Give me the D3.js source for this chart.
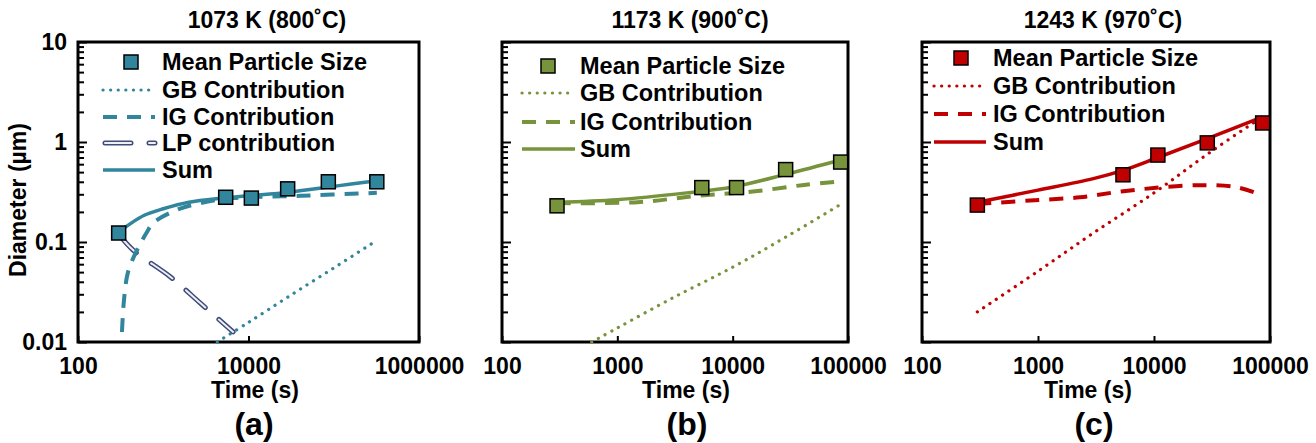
<!DOCTYPE html>
<html>
<head>
<meta charset="utf-8">
<script src="https://cdn.jsdelivr.net/npm/d3@7/dist/d3.min.js"></script>
<style>
  body { margin: 0; background: #fff; }
  text { font-family: "Liberation Sans", Arial, sans-serif; font-weight: bold; fill: #000; }
</style>
</head>
<body>
<div id="app"></div>
<script>
// ---- data ----
// (a) 1073 K
const meanTimesA = [300, 5400, 10800, 28800, 86400, 320000]
const meanA      = [0.123, 0.28, 0.275, 0.34, 0.40, 0.40]
const sumTimesA  = [300, 400, 600, 1000, 2000, 5000, 10000, 30000, 100000, 320000]
const sumA       = [0.125, 0.15, 0.185, 0.215, 0.25, 0.275, 0.29, 0.315, 0.36, 0.41]
const igTimesA   = [328, 346, 386, 492, 645, 760, 1450, 2720, 6600, 41000, 320000]
const igA        = [0.0126, 0.026, 0.05, 0.083, 0.126, 0.155, 0.21, 0.245, 0.275, 0.29, 0.31]
const lpTimesA   = [300, 443, 1206, 2720, 6600]
const lpA        = [0.12, 0.083, 0.045, 0.0245, 0.0126]
const gbTimesA   = [4300, 10000, 30000, 100000, 310000]
const gbA        = [0.010, 0.0157, 0.0287, 0.055, 0.102]

// (b) 1173 K
const meanTimesB = [300, 5400, 10800, 28800, 86400]
const meanB      = [0.23, 0.35, 0.35, 0.53, 0.63]
const sumTimesB  = [300, 1000, 4000, 10000, 30000, 86400]
const sumB       = [0.25, 0.265, 0.31, 0.355, 0.48, 0.66]
const igTimesB   = [300, 1500, 5000, 15000, 40000, 80000]
const igB        = [0.245, 0.25, 0.29, 0.32, 0.37, 0.40]
const gbTimesB   = [600, 1000, 3000, 10000, 30000, 90000]
const gbB        = [0.01, 0.0138, 0.0275, 0.056, 0.115, 0.245]

// (c) 1243 K
const meanTimesC = [300, 5400, 10800, 28800, 86400]
const meanC      = [0.234, 0.47, 0.74, 0.98, 1.55]
const sumTimesC  = [300, 1000, 3000, 5400, 10800, 28800, 86400]
const sumC       = [0.25, 0.33, 0.43, 0.52, 0.70, 1.08, 1.78]
const igTimesC   = [300, 850, 2300, 5200, 11000, 25000, 50000, 75000]
const igC        = [0.24, 0.26, 0.28, 0.32, 0.35, 0.37, 0.355, 0.31]
const gbTimesC   = [300, 1000, 3000, 10000, 30000, 90000]
const gbC        = [0.02, 0.051, 0.123, 0.31, 0.78, 1.85]

const yMajor = [0.01, 0.1, 1, 10]
const yTickLabels = ['0.01', '0.1', '1', '10']

// ---- layout ----
const W = 1316, H = 443
const plotTop = 42, plotBottom = 342

const panels = [
  { left: 78, right: 419, xDomain: [100, 1e6], xTicks: [100, 1e4, 1e6], color: '#31859C',
    title: '1073 K (800˚C)', titleX: 267, timeX: 255, tag: '(a)', tagX: 254, yLabels: true,
    legend: { x0: 103, x1: 155, sq: 131, tx: 162, rows: [62, 90, 117, 143, 170] },
    mean: [meanTimesA, meanA], sum: [sumTimesA, sumA], ig: [igTimesA, igA], gb: [gbTimesA, gbA], lp: [lpTimesA, lpA] },
  { left: 502, right: 848, xDomain: [100, 1e5], xTicks: [100, 1000, 1e4, 1e5], color: '#77933C',
    title: '1173 K (900˚C)', titleX: 690, timeX: 686, tag: '(b)', tagX: 687, yLabels: false,
    legend: { x0: 522, x1: 575, sq: 548, tx: 580, rows: [66, 93, 122, 149] },
    mean: [meanTimesB, meanB], sum: [sumTimesB, sumB], ig: [igTimesB, igB], gb: [gbTimesB, gbB] },
  { left: 922, right: 1270, xDomain: [100, 1e5], xTicks: [100, 1000, 1e4, 1e5], color: '#C00000',
    title: '1243 K (970˚C)', titleX: 1103, timeX: 1088, tag: '(c)', tagX: 1094, yLabels: false,
    legend: { x0: 934, x1: 986, sq: 961, tx: 993, rows: [58, 86, 114, 142] },
    mean: [meanTimesC, meanC], sum: [sumTimesC, sumC], ig: [igTimesC, igC], gb: [gbTimesC, gbC] }
]

const svg = d3.select('#app')
  .append('svg')
    .attr('width', W)
    .attr('height', H)

const yScale = d3.scaleLog().domain([0.01, 10]).range([plotBottom, plotTop])
const yMinor = []
yMajor.slice(0, -1).forEach(v => { for (let k = 2; k <= 9; k++) yMinor.push(v * k) })

// line styles
function styleLine(sel, kind, color) {
  if (kind === 'sum') sel.attr('stroke', color).attr('stroke-width', 3.5)
  if (kind === 'ig') sel.attr('stroke', color).attr('stroke-width', 4).attr('stroke-dasharray', '14,10')
  if (kind === 'gb') sel.attr('stroke', color).attr('stroke-width', 3.2)
                        .attr('stroke-linecap', 'round').attr('stroke-dasharray', '0.1,7.5')
  return sel.attr('fill', 'none')
}
function drawLp(g, d) {
  g.append('path').attr('d', d).attr('fill', 'none')
    .attr('stroke', '#3f4b78').attr('stroke-width', 5)
    .attr('stroke-linecap', 'round').attr('stroke-dasharray', '26,18')
  g.append('path').attr('d', d).attr('fill', 'none')
    .attr('stroke', '#eef0f6').attr('stroke-width', 2)
    .attr('stroke-linecap', 'round').attr('stroke-dasharray', '26,18')
}

panels.forEach(p => {
  const g = svg.append('g')
  const xScale = d3.scaleLog().domain(p.xDomain).range([p.left, p.right])

  // frame
  g.append('rect')
    .attr('x', p.left).attr('y', plotTop)
    .attr('width', p.right - p.left).attr('height', plotBottom - plotTop)
    .attr('fill', 'none').attr('stroke', '#000').attr('stroke-width', 3)

  // y axis: minor + major ticks pointing inward
  g.append('g')
    .attr('transform', `translate(${p.left},0)`)
    .call(d3.axisLeft(yScale).tickValues(yMinor).tickSize(-6).tickFormat(''))
    .call(a => a.select('.domain').remove())
    .call(a => a.selectAll('line').attr('stroke-width', 2))
  g.append('g')
    .attr('transform', `translate(${p.left},0)`)
    .call(d3.axisLeft(yScale).tickValues(yMajor).tickSize(-9).tickPadding(11)
      .tickFormat((d, i) => p.yLabels ? yTickLabels[i] : ''))
    .call(a => a.select('.domain').remove())
    .call(a => a.selectAll('line').attr('stroke-width', 2))
    .call(a => a.selectAll('text').attr('font-size', 23).attr('fill', '#000')
      .attr('font-family', '"Liberation Sans", Arial, sans-serif'))

  // x axis
  g.append('g')
    .attr('transform', `translate(0,${plotBottom})`)
    .call(d3.axisBottom(xScale).tickValues(p.xTicks).tickSize(-6).tickPadding(16)
      .tickFormat(d3.format('d')))
    .call(a => a.select('.domain').remove())
    .call(a => a.selectAll('line').attr('stroke-width', 2))
    .call(a => a.selectAll('text').attr('font-size', 23).attr('fill', '#000')
      .attr('font-family', '"Liberation Sans", Arial, sans-serif'))

  const line = d3.line()
    .x(d => xScale(d[0]))
    .y(d => yScale(d[1]))
    .curve(d3.curveCatmullRom.alpha(0.5))

  styleLine(g.append('path').attr('d', line(d3.zip(...p.gb))), 'gb', p.color)
  if (p.lp) drawLp(g, line(d3.zip(...p.lp)))
  styleLine(g.append('path').attr('d', line(d3.zip(...p.ig))), 'ig', p.color)
  styleLine(g.append('path').attr('d', line(d3.zip(...p.sum))), 'sum', p.color)

  g.selectAll('.dot')
    .data(d3.zip(...p.mean))
    .join('rect')
      .attr('class', 'dot')
      .attr('x', d => xScale(d[0]) - 7)
      .attr('y', d => yScale(d[1]) - 7)
      .attr('width', 14).attr('height', 14)
      .attr('fill', p.color).attr('stroke', '#000').attr('stroke-width', 1.5)

  // legend
  const L = p.legend
  const items = [['mean', 'Mean Particle Size'], ['gb', 'GB Contribution'], ['ig', 'IG Contribution']]
  if (p.lp) items.push(['lp', 'LP contribution'])
  items.push(['sum', 'Sum'])
  items.forEach(([kind, label], i) => {
    const yy = L.rows[i]
    if (kind === 'mean') {
      g.append('rect').attr('x', L.sq - 7).attr('y', yy - 7).attr('width', 14).attr('height', 14)
        .attr('fill', p.color).attr('stroke', '#000').attr('stroke-width', 1.5)
    } else if (kind === 'lp') {
      drawLp(g, `M${L.x0 + 2},${yy}H${L.x1}`)
    } else {
      styleLine(g.append('path').attr('d', `M${L.x0},${yy}H${L.x1}`), kind, p.color)
    }
    g.append('text').attr('x', L.tx).attr('y', yy).attr('dy', '0.36em')
      .attr('font-size', 23.5).text(label)
  })

  // titles
  g.append('text').attr('x', p.titleX).attr('y', 28).attr('text-anchor', 'middle')
    .attr('font-size', 23).text(p.title)
  g.append('text').attr('x', p.timeX).attr('y', 398).attr('text-anchor', 'middle')
    .attr('font-size', 23).text('Time (s)')
  g.append('text').attr('x', p.tagX).attr('y', 435).attr('text-anchor', 'middle')
    .attr('font-size', 32).text(p.tag)
})

svg.append('text')
  .attr('transform', 'translate(26,200) rotate(-90)')
  .attr('text-anchor', 'middle')
  .attr('font-size', 23)
  .text('Diameter (µm)')
</script>
</body>
</html>
